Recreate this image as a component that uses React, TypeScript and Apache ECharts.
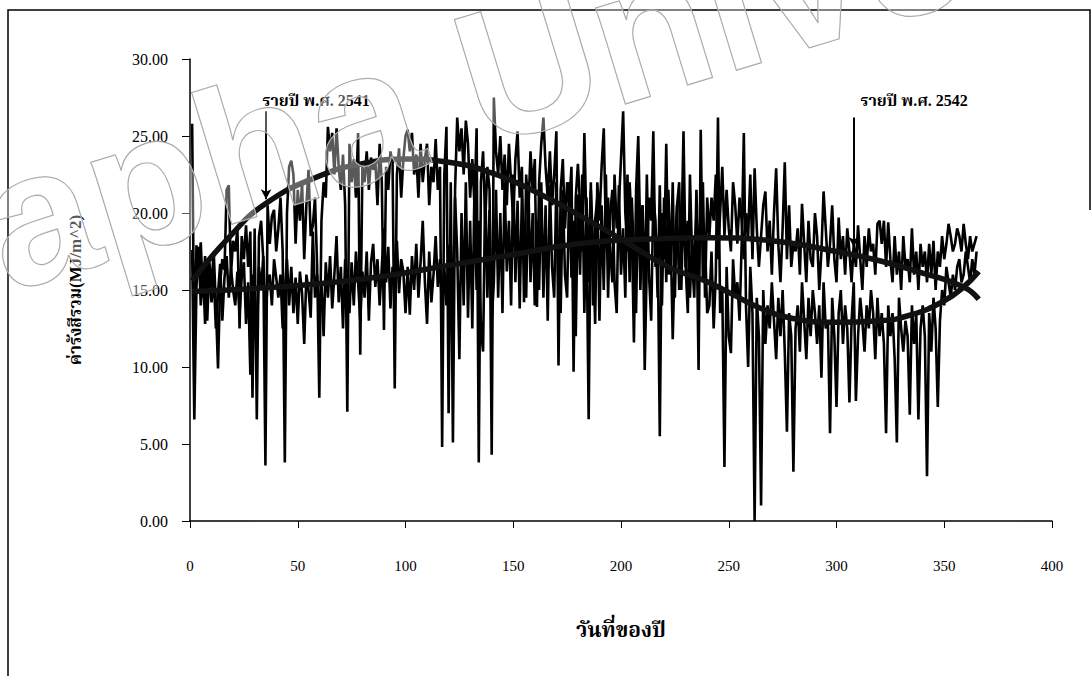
import React, { useEffect, useRef } from "react";
import * as echarts from "echarts";

// Daily total radiation (MJ/m^2), day of year 1..365
const yr2541 = [
  25.8, 10.4, 17.9, 16.2, 18.1, 14.5, 17.2, 13.0, 16.8, 15.2, 17.5, 14.0, 9.9, 15.5, 17.0, 16.3, 21.5, 21.8, 16.0, 18.2,
  17.5, 19.0, 12.5, 18.5, 17.0, 19.2, 16.5, 18.8, 8.0, 19.0, 6.6, 18.5, 19.5, 17.0, 3.6, 20.5, 18.0, 19.8, 20.2, 17.5,
  19.0, 21.0, 17.5, 3.8, 20.0, 23.0, 23.4, 22.5, 18.0, 21.5, 19.5, 22.0, 17.0, 20.5, 22.8, 18.5, 19.2, 21.0, 16.5, 8.0,
  19.5, 22.0, 21.0, 25.6, 24.0, 25.2, 22.5, 25.5, 23.0, 21.5, 23.8, 20.5, 7.1, 24.5, 22.0, 23.5, 21.0, 25.2, 10.8, 23.0,
  22.0, 24.0, 21.5, 23.6, 22.8, 23.4, 20.5, 24.5, 22.0, 12.4, 23.0, 21.5, 24.0, 23.3, 8.6, 22.5, 24.2, 21.0, 23.5, 25.0,
  25.4, 24.0, 25.2, 22.5, 23.8, 21.0, 24.5, 22.0, 23.5, 24.5, 20.5, 23.0, 22.0, 24.8, 21.5, 23.0, 4.8, 22.5, 25.6, 7.0,
  22.0, 5.1, 21.5, 26.2, 24.0, 25.5, 22.5, 26.0, 24.5, 21.0, 23.5, 20.5, 25.5, 3.8, 22.0, 24.0, 19.5, 23.0, 21.5, 4.3,
  27.5, 24.0, 22.5, 25.0, 21.5, 23.8, 20.5, 24.5, 22.0, 19.5, 23.5, 25.3, 21.0, 23.0, 14.2, 22.5, 20.0, 24.0, 21.5, 23.5,
  13.9, 22.0, 24.5, 26.2, 23.0, 21.0, 24.0, 20.5, 22.5, 25.3, 10.1, 21.5, 23.5, 19.0, 22.0, 20.5, 23.0, 9.7, 21.0, 23.2,
  20.5, 17.5, 25.2, 19.0, 6.6, 21.5, 18.0, 12.8, 22.0, 19.5, 23.0, 25.5, 18.5, 21.0, 17.5, 15.5, 22.5, 19.0, 20.5, 23.5,
  26.6, 20.0, 17.5, 22.0, 19.0, 11.6, 21.5, 25.0, 18.0, 20.5, 9.8, 17.0, 21.0, 19.5, 25.3, 16.5, 18.5, 5.5, 20.0, 17.0,
  24.5, 16.0, 19.0, 11.8, 17.5, 20.5, 15.0, 18.0, 25.3, 16.5, 19.5, 14.5, 18.5, 16.0, 20.0, 9.8, 25.4, 15.5, 18.0, 13.5,
  14.0, 17.5, 12.5, 16.0, 26.2, 13.5, 15.0, 3.5, 16.5, 12.0, 10.9, 17.0, 14.5, 15.5, 13.0, 18.0, 25.2, 14.0, 10.0, 16.5,
  13.5, 0.0, 14.5, 12.0, 1.0, 15.0, 11.5, 14.0, 12.5, 15.5, 13.0, 10.5, 14.5, 12.0, 15.0, 11.0, 5.8, 13.5, 12.0, 3.2,
  12.5, 14.0, 11.0, 15.5, 13.0, 10.5, 14.5, 12.0, 15.0, 13.5, 11.5, 14.0, 9.3, 15.5, 12.5, 13.0, 5.7, 14.5, 12.0, 7.4,
  13.5, 15.0, 11.5, 14.0, 12.5, 7.7, 13.0, 15.5, 7.8, 12.0, 14.5, 13.0, 11.0, 14.0, 12.5, 15.0, 13.5, 10.5, 14.5, 12.0,
  13.5, 11.5, 5.7, 14.0, 12.0, 13.5, 10.5, 5.1, 14.5, 12.5, 11.0, 13.0, 12.0, 6.9, 14.0, 11.5, 13.5, 6.6, 12.5, 14.0,
  12.0, 2.9, 13.5, 11.0, 14.5, 12.5, 7.4, 13.0, 15.0, 14.0, 16.5, 15.5, 14.5, 16.0, 15.0, 16.5, 17.0, 15.5, 16.0, 17.5,
  16.5, 15.5, 17.0, 16.0, 17.5,
];

const yr2542 = [
  17.6, 6.6, 15.2, 17.8, 14.0, 16.5, 12.8, 17.0, 15.5, 14.2, 16.0, 12.5, 14.8, 16.7, 13.0, 15.8, 17.2, 14.5, 16.4, 15.0,
  14.0, 16.2, 13.5, 15.8, 16.8, 12.8, 15.5, 9.5, 16.0, 14.2, 12.0, 16.5, 15.0, 17.2, 13.0, 15.5, 16.0, 14.0, 17.0, 15.8,
  14.5, 16.0, 12.5, 15.0, 17.0, 14.0, 16.5, 13.5, 15.8, 12.8, 16.2, 14.8, 11.5, 16.0, 15.0, 13.2, 18.8, 14.5, 16.0, 13.0,
  15.5, 12.0, 16.8, 14.5, 17.2, 13.8, 16.0, 18.5, 14.2, 16.5, 12.5, 17.0, 15.0, 13.5, 16.8, 14.0, 17.5, 15.5, 13.0, 16.2,
  14.5, 17.5, 13.0, 16.8, 18.0, 15.2, 17.0, 14.0, 16.5, 19.0, 15.5, 17.8, 13.8, 16.5, 15.0, 18.2, 14.8, 17.0, 16.2, 13.5,
  16.5, 13.4, 17.2, 15.0, 18.0, 14.5, 16.8, 19.5, 15.5, 12.8, 17.5, 14.2, 16.0, 18.5, 15.2, 17.0, 13.5, 16.5, 14.0, 17.8,
  18.0, 13.5, 21.0, 17.5, 10.5, 20.0, 14.0, 22.0, 13.2, 19.5, 12.5, 21.5, 15.0, 19.5, 12.5, 11.0, 21.8, 14.5, 20.2, 13.0,
  15.5, 21.5, 14.5, 20.0, 13.5, 22.0, 16.2, 19.5, 14.0, 22.5, 15.5, 20.8, 13.8, 21.0, 17.0, 14.5, 22.0, 15.5, 20.0, 14.0,
  19.5, 15.0, 22.0, 14.5, 20.5, 13.0, 21.8, 16.5, 14.5, 22.0, 15.2, 13.5, 21.5, 16.0, 14.5, 22.0, 15.8, 19.5, 12.0, 21.2,
  16.0, 22.5, 13.5, 21.0, 15.5, 22.0, 14.0, 19.5, 21.0, 13.0, 20.5, 15.0, 22.5, 14.5, 20.0, 21.5, 15.5, 13.5, 21.8, 16.0,
  19.0, 14.5, 22.5, 15.5, 21.0, 17.2, 13.5, 22.0, 15.0, 20.5, 14.5, 22.5, 16.0, 13.0, 21.0, 19.5, 14.5, 21.8, 14.0, 21.0,
  15.5, 21.5, 16.0, 22.0, 14.5, 20.5, 22.0, 15.0, 21.0, 16.5, 13.5, 22.5, 17.0, 14.5, 21.5, 16.0, 20.5, 22.0, 14.5, 21.0,
  18.5, 21.0, 19.5, 22.5, 17.0, 20.0, 23.0, 18.5, 21.5, 19.0, 17.5, 22.0, 20.5, 18.0, 21.0, 19.5, 17.0, 20.0, 18.5, 22.5,
  17.0, 22.9, 19.0, 16.5, 18.5, 20.5, 21.4, 17.5, 19.5, 16.0, 20.0, 22.9, 18.0, 15.5, 19.0, 23.3, 17.0, 20.5, 16.5, 18.0,
  17.5, 19.0, 16.0, 20.6, 18.0, 15.5, 19.5, 17.0, 16.5, 20.0, 18.5, 15.0, 17.5, 21.4, 19.0, 16.5, 18.0, 20.5, 17.0, 15.5,
  19.7, 17.0, 18.5, 16.0, 19.0, 17.5, 15.5, 18.0, 16.5, 19.2, 17.0, 15.0, 18.5, 16.5, 19.0, 17.5, 18.0, 16.0, 19.3, 19.5,
  18.0, 19.5, 16.5, 19.4, 17.0, 15.5, 18.5, 16.0, 17.5, 15.0, 18.5, 16.5, 17.0, 15.5, 19.0, 16.0, 17.5, 15.0, 18.0, 16.5,
  17.5, 15.5, 18.0, 16.0, 18.2, 15.0, 17.5, 16.5, 18.5, 17.0, 18.0, 19.3, 18.5, 17.5, 18.0, 19.0, 18.5, 17.5, 19.3, 18.0,
  17.0, 18.5, 17.5, 18.0, 18.5,
];

// Yearly trend curves (day, value)
const trendADays = [1, 18, 35, 60, 80, 100, 120, 140, 160, 180, 200, 222, 239, 252, 265, 278, 300, 320, 335, 350, 359, 366];
const trendAVals = [15.6, 18.4, 20.6, 22.4, 23.2, 23.5, 23.3, 22.6, 21.4, 19.9, 18.3, 16.5, 15.6, 14.7, 13.8, 13.2, 12.9, 13.0, 13.4, 14.3, 15.2, 16.2];
const trendBDays = [1, 30, 60, 90, 120, 150, 180, 210, 240, 270, 300, 320, 340, 359, 366];
const trendBVals = [14.9, 15.1, 15.4, 15.9, 16.6, 17.3, 18.0, 18.3, 18.4, 18.2, 17.5, 16.9, 16.1, 15.2, 14.4];

const label2541 = "รายปี พ.ศ. 2541";
const label2542 = "รายปี พ.ศ. 2542";
const xTitle = "วันที่ของปี";
const yTitle = "ค่ารังสีรวม(MJ/m^2)";

export default function App() {
  const ref = useRef<HTMLDivElement>(null);
  useEffect(() => {
    document.body.style.margin = "0";
    const chart = echarts.init(ref.current!, null, { renderer: "svg" });
    const font =
      '"Liberation Serif", "Noto Serif Thai", "Noto Sans Thai", Loma, Garuda, Norasi, "DejaVu Serif", serif';
    const toPairs = (vals: number[]) => vals.map((v, i) => [i + 1, v]);
    const trendPairs = (d: number[], v: number[]) => d.map((x, i) => [x, v[i]]);
    chart.setOption({
      animation: false,
      backgroundColor: "#fff",
      grid: { left: 190, top: 59, right: 40, bottom: 155, containLabel: false },
      xAxis: {
        type: "value",
        min: 0,
        max: 400,
        interval: 50,
        axisLine: { show: true, lineStyle: { color: "#000", width: 1.5 } },
        axisTick: { show: true, length: 7, lineStyle: { color: "#000" } },
        splitLine: { show: false },
        axisLabel: { margin: 37, color: "#000", fontFamily: font, fontSize: 15 },
        name: xTitle,
        nameLocation: "middle",
        nameGap: 98,
        nameTextStyle: { fontFamily: font, fontSize: 21, fontWeight: "bold", color: "#000" },
      },
      yAxis: {
        type: "value",
        min: 0,
        max: 30,
        interval: 5,
        axisLine: { show: true, lineStyle: { color: "#000", width: 1.5 } },
        axisTick: { show: true, length: 8, lineStyle: { color: "#000" } },
        splitLine: { show: false },
        axisLabel: {
          margin: 22,
          color: "#000",
          fontFamily: font,
          fontSize: 16,
          formatter: (v: number) => v.toFixed(2),
        },
        name: yTitle,
        nameLocation: "middle",
        nameGap: 106,
        nameRotate: 90,
        nameTextStyle: { fontFamily: font, fontSize: 17, fontWeight: "bold", color: "#000" },
      },
      series: [
        {
          name: "2541",
          type: "line",
          data: toPairs(yr2541),
          symbol: "none",
          lineStyle: { color: "#000", width: 2.6 },
          z: 2,
          markLine: {
            silent: true,
            symbol: ["none", "arrow"],
            symbolSize: [8, 10],
            label: { show: false },
            lineStyle: { color: "#000", width: 2, type: "solid" },
            data: [
              [{ coord: [35.3, 26.6] }, { coord: [35.3, 20.9] }],
              [{ coord: [308, 26.2] }, { coord: [308, 17.8] }],
            ],
          },
          markPoint: {
            silent: true,
            symbol: "circle",
            symbolSize: 1,
            itemStyle: { color: "rgba(0,0,0,0)" },
            label: {
              show: true,
              color: "#000",
              fontFamily: font,
              fontSize: 16,
              fontWeight: "bold",
              formatter: (p: any) => p.name,
            },
            data: [
              { name: label2541, coord: [58.5, 27.3] },
              { name: label2542, coord: [336, 27.3] },
            ],
          },
        },
        {
          name: "2542",
          type: "line",
          data: toPairs(yr2542),
          symbol: "none",
          lineStyle: { color: "#000", width: 2.6 },
          z: 2,
        },
        {
          name: "trend2541",
          type: "line",
          data: trendPairs(trendADays, trendAVals),
          smooth: 0.5,
          symbol: "none",
          lineStyle: { color: "#111", width: 5.5 },
          z: 3,
        },
        {
          name: "trend2542",
          type: "line",
          data: trendPairs(trendBDays, trendBVals),
          smooth: 0.5,
          symbol: "none",
          lineStyle: { color: "#111", width: 5.5 },
          z: 3,
        },
      ],
      graphic: [
        {
          type: "polyline",
          silent: true,
          z: 50,
          shape: { points: [[8, 676], [8, 10], [1090, 10], [1090, 210]] },
          style: { stroke: "#000", lineWidth: 1.5, fill: "none" },
        },
        {
          type: "text",
          silent: true,
          z: 100,
          x: -297,
          y: 416,
          rotation: (17 * Math.PI) / 180,
          style: {
            text: "Burapha University",
            font: 'bold 190px "Liberation Sans", Arial, sans-serif',
            fill: "rgba(255,255,255,0.35)",
            stroke: "#9a9a9a",
            lineWidth: 1.2,
            verticalAlign: "bottom",
          },
        },
      ],
    });
    return () => chart.dispose();
  }, []);
  return <div ref={ref} style={{ width: 1092, height: 676 }} />;
}
